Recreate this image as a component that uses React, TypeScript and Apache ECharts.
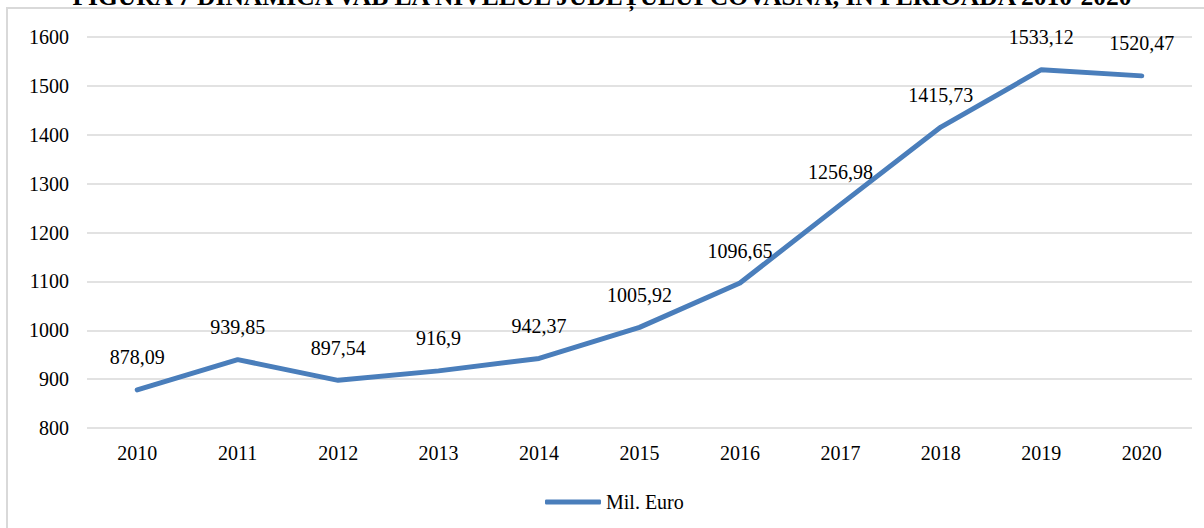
import React, { useEffect, useRef } from "react";
import * as echarts from "echarts";

const years = ["2010", "2011", "2012", "2013", "2014", "2015", "2016", "2017", "2018", "2019", "2020"];
const values = [878.09, 939.85, 897.54, 916.9, 942.37, 1005.92, 1096.65, 1256.98, 1415.73, 1533.12, 1520.47];
const seriesName = "Mil. Euro";
const titleText = "FIGURA 7 DINAMICA VAB LA NIVELUL JUDEȚULUI COVASNA, ÎN PERIOADA 2010-2020";

const FONT = "Liberation Serif";
const BLUE = "#4a7ebb";

export default function App() {
  const ref = useRef<HTMLDivElement>(null);
  useEffect(() => {
    if (!ref.current) return;
    const chart = echarts.init(ref.current, undefined, { renderer: "svg" });
    chart.setOption({
      animation: false,
      backgroundColor: "#ffffff",
      textStyle: { fontFamily: FONT },
      graphic: [
        {
          type: "rect",
          silent: true,
          z: -10,
          shape: { x: 7, y: 8, width: 1400, height: 800 },
          style: { fill: "none", stroke: "#d9d9d9", lineWidth: 2 },
        },
        {
          type: "text",
          x: 602,
          y: 9,
          style: {
            text: titleText,
            fontFamily: FONT,
            fontSize: 25.5,
            fontWeight: "bold",
            fill: "#000",
            align: "center",
            verticalAlign: "bottom",
          },
        },
      ],
      grid: { left: 87, right: 12, top: 37, bottom: 100, containLabel: false },
      legend: {
        data: [seriesName],
        left: 540,
        top: 487,
        itemWidth: 56,
        itemHeight: 5,
        icon: "roundRect",
        itemStyle: { color: BLUE },
        textStyle: { fontFamily: FONT, fontSize: 20, color: "#000" },
      },
      xAxis: {
        type: "category",
        data: years,
        boundaryGap: true,
        axisLine: { show: false },
        axisTick: { show: false },
        axisLabel: { fontFamily: FONT, fontSize: 20, color: "#000", margin: 15 },
      },
      yAxis: {
        type: "value",
        min: 800,
        max: 1600,
        interval: 100,
        axisLine: { show: false },
        axisTick: { show: false },
        axisLabel: {
          fontFamily: FONT,
          fontSize: 20,
          color: "#000",
          margin: 18,
          formatter: (v: number) => String(v),
        },
        splitLine: { lineStyle: { color: "#d9d9d9", width: 1.5 } },
      },
      series: [
        {
          name: seriesName,
          type: "line",
          data: values,
          color: BLUE,
          symbol: "circle",
          symbolSize: 1,
          itemStyle: { color: BLUE },
          lineStyle: { color: BLUE, width: 5, cap: "round", join: "round" },
          label: {
            show: true,
            position: "top",
            distance: 22,
            fontFamily: FONT,
            fontSize: 20,
            color: "#000",
            formatter: (p: any) => String(p.value).replace(".", ","),
          },
        },
      ],
    });
    return () => chart.dispose();
  }, []);
  return (
    <div
      ref={ref}
      style={{ position: "fixed", left: 0, top: 0, width: 1204, height: 528, background: "#fff" }}
    />
  );
}
